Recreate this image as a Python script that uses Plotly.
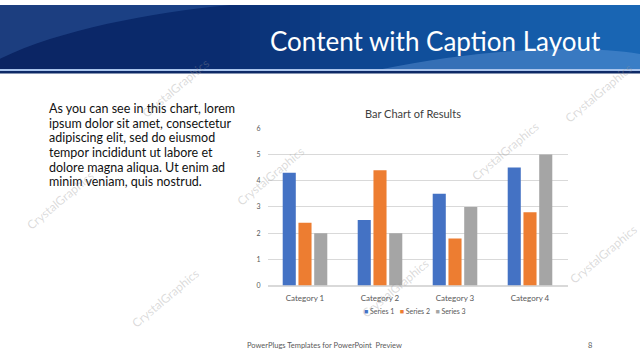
import plotly.graph_objects as go

# ---- data ----
categories = ["Category 1", "Category 2", "Category 3", "Category 4"]
series_names = ["Series 1", "Series 2", "Series 3"]
series1 = [4.3, 2.5, 3.5, 4.5]
series2 = [2.4, 4.4, 1.8, 2.8]
series3 = [2.0, 2.0, 3.0, 5.0]
y_ticks = [0, 1, 2, 3, 4, 5, 6]
colors = ["#4472C4", "#ED7D31", "#A5A5A5"]

slide_title = "Content with Caption Layout"
chart_title = "Bar Chart of Results"
caption_lines = [
    "As you can see in this chart, lorem",
    "ipsum dolor sit amet, consectetur",
    "adipiscing elit, sed do eiusmod",
    "tempor incididunt ut labore et",
    "dolore magna aliqua. Ut enim ad",
    "minim veniam, quis nostrud.",
]
footer_text = "PowerPlugs Templates for PowerPoint  Preview"
page_number = "8"

W, H = 640, 360
FONT = "Lato"


def px(x):
    return x / W


def py(y):
    return 1 - y / H


fig = go.Figure()
for name, vals, c in zip(series_names, [series1, series2, series3], colors):
    fig.add_trace(go.Bar(x=categories, y=vals, name=name, marker_color=c,
                         marker_line_width=0, showlegend=False))

shapes = []
# header gradient (horizontal)
stops = [(0, (11, 36, 98)), (0.35, (10, 44, 112)), (0.6, (14, 74, 150)), (1.0, (26, 104, 182))]


def interp(t):
    for (t0, c0), (t1, c1) in zip(stops[:-1], stops[1:]):
        if t0 <= t <= t1:
            f = (t - t0) / (t1 - t0)
            return tuple(int(round(a + (b - a) * f)) for a, b in zip(c0, c1))
    return stops[-1][1]


n = 64
for i in range(n):
    x0 = i * W / n
    x1 = (i + 1) * W / n + 0.5
    r, g, b = interp((i + 0.5) / n)
    shapes.append(dict(type="rect", xref="paper", yref="paper",
                       x0=px(x0), x1=px(x1), y0=py(66), y1=py(0),
                       fillcolor=f"rgb({r},{g},{b})", line_width=0, layer="below"))
# swooshes
shapes.append(dict(type="path", xref="paper", yref="paper",
                   path=f"M {px(0)} {py(0)} L {px(230)} {py(0)} C {px(150)} {py(8)} {px(60)} {py(25)} {px(0)} {py(55)} Z",
                   fillcolor="rgba(60,110,180,0.35)", line_width=0, layer="below"))
shapes.append(dict(type="path", xref="paper", yref="paper",
                   path=f"M {px(380)} {py(66)} C {px(480)} {py(45)} {px(580)} {py(40)} {px(640)} {py(50)} L {px(640)} {py(66)} Z",
                   fillcolor="rgba(120,170,230,0.35)", line_width=0, layer="below"))
# header bottom lines
shapes.append(dict(type="rect", xref="paper", yref="paper", x0=0, x1=1,
                   y0=py(67.5), y1=py(65.5), fillcolor="#A9C4EC", line_width=0, layer="below"))
shapes.append(dict(type="rect", xref="paper", yref="paper", x0=0, x1=1,
                   y0=py(70), y1=py(67.5), fillcolor="#0E2A66", line_width=0, layer="below"))

annotations = []
annotations.append(dict(text=slide_title, x=px(603), y=py(37), xref="paper", yref="paper",
                        xanchor="right", yanchor="middle", showarrow=False,
                        font=dict(family=FONT, size=26, color="white")))
for i, line in enumerate(caption_lines):
    annotations.append(dict(text=line, x=px(47), y=py(106 + 15 * i), xref="paper", yref="paper",
                            xanchor="left", yanchor="middle", showarrow=False,
                            font=dict(family=FONT, size=12.5, color="#111111")))
annotations.append(dict(text=chart_title, x=px(413), y=py(111), xref="paper", yref="paper",
                        xanchor="center", yanchor="middle", showarrow=False,
                        font=dict(family=FONT, size=11, color="#404040")))
# compact legend (built from series names and colours)
legend_text = "   ".join(
    f'<span style="color:{c}">■</span> {nm}' for nm, c in zip(series_names, colors))
annotations.append(dict(text=legend_text, x=px(415), y=py(313), xref="paper", yref="paper",
                        xanchor="center", yanchor="middle", showarrow=False,
                        font=dict(family=FONT, size=7, color="#595959")))
annotations.append(dict(text=footer_text, x=px(245), y=py(348), xref="paper", yref="paper",
                        xanchor="left", yanchor="middle", showarrow=False,
                        font=dict(family=FONT, size=7.5, color="#595959")))
annotations.append(dict(text=page_number, x=px(590), y=py(348), xref="paper", yref="paper",
                        xanchor="center", yanchor="middle", showarrow=False,
                        font=dict(family=FONT, size=7.5, color="#595959")))
# watermarks
wm = [(175, 85), (270, 175), (60, 200), (395, 290), (505, 150), (598, 90), (603, 255), (165, 300)]
for (x, y) in wm:
    annotations.append(dict(text="CrystalGraphics", x=px(x), y=py(y), xref="paper", yref="paper",
                            xanchor="center", yanchor="middle", showarrow=False, textangle=-40,
                            font=dict(family=FONT, size=12, color="rgba(150,150,150,0.35)")))

fig.update_layout(
    width=W, height=H, margin=dict(l=0, r=0, t=0, b=0),
    paper_bgcolor="white", plot_bgcolor="white",
    barmode="group", bargap=0.37, bargroupgap=0.17,
    font=dict(family=FONT, color="#595959"),
    shapes=shapes, annotations=annotations,
    xaxis=dict(domain=[px(267.5), px(567.5)], showgrid=False, showline=False, zeroline=False,
               ticks="", ticklabelstandoff=6,
               tickfont=dict(size=8, color="#595959"), fixedrange=True),
    yaxis=dict(domain=[py(287), py(126)], range=[0, 6], tickvals=y_ticks,
               showgrid=True, gridcolor="#D9D9D9", gridwidth=1, zeroline=True,
               zerolinecolor="#D9D9D9", showline=False, ticks="", ticklabelstandoff=6,
               tickfont=dict(size=7, color="#595959"), fixedrange=True),
    showlegend=False,
)

fig.write_html("out.html")
